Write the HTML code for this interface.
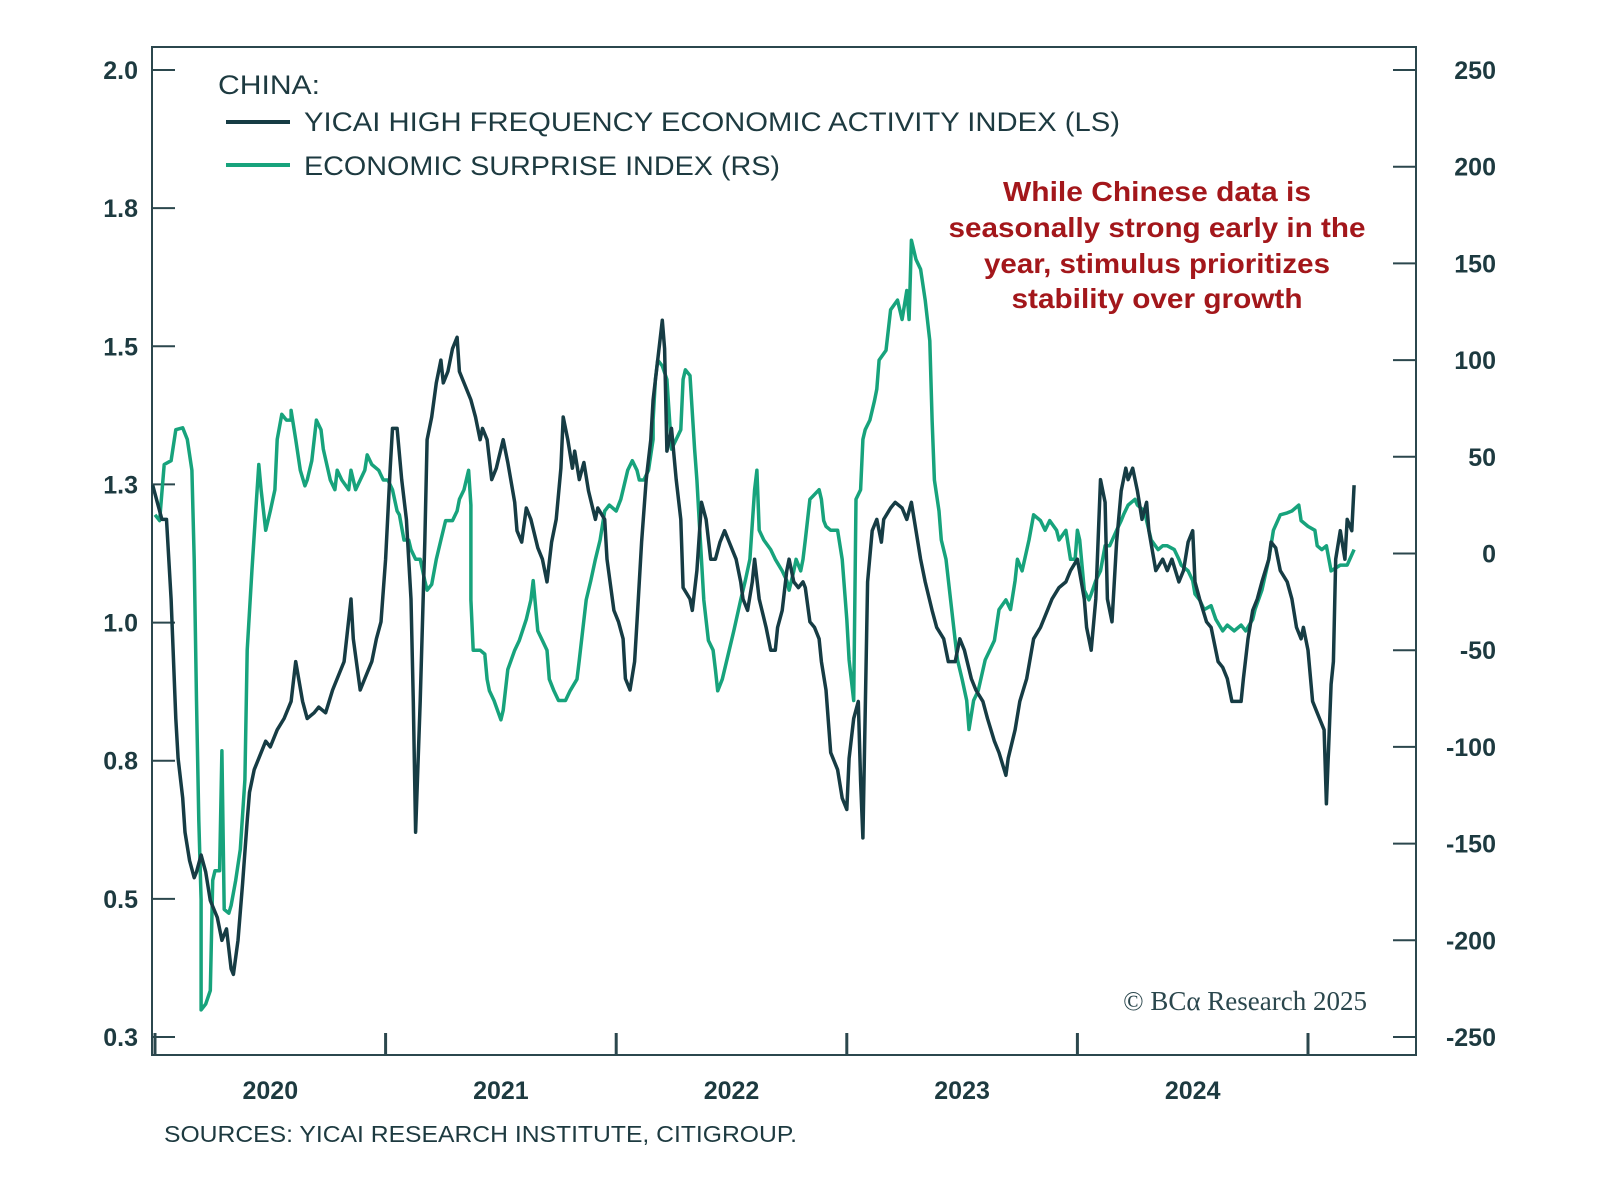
<!DOCTYPE html>
<html><head><meta charset="utf-8">
<style>
html,body{margin:0;padding:0;background:#fff;}
svg{display:block;font-family:"Liberation Sans",sans-serif;}
</style></head>
<body>
<svg id="chart" width="1600" height="1186" viewBox="0 0 1600 1186">
  <rect x="152" y="47" width="1264" height="1008" fill="#fff" stroke="#2b474d" stroke-width="2"/>
  <g id="axes"></g>
  <g id="series"></g>
  <g font-size="27" fill="#1d3a40">
    <text x="218" y="94" textLength="102" lengthAdjust="spacingAndGlyphs">CHINA:</text>
    <line x1="226" y1="122" x2="290" y2="122" stroke="#163c44" stroke-width="4"/>
    <text x="304" y="131" textLength="816" lengthAdjust="spacingAndGlyphs">YICAI HIGH FREQUENCY ECONOMIC ACTIVITY INDEX (LS)</text>
    <line x1="226" y1="165" x2="290" y2="165" stroke="#17a37c" stroke-width="4"/>
    <text x="304" y="175" textLength="476" lengthAdjust="spacingAndGlyphs">ECONOMIC SURPRISE INDEX (RS)</text>
  </g>
  <g font-size="28" font-weight="bold" fill="#a3171b" text-anchor="middle">
    <text x="1157" y="201" textLength="308" lengthAdjust="spacingAndGlyphs">While Chinese data is</text>
    <text x="1157" y="237" textLength="417" lengthAdjust="spacingAndGlyphs">seasonally strong early in the</text>
    <text x="1157" y="273" textLength="346" lengthAdjust="spacingAndGlyphs">year, stimulus prioritizes</text>
    <text x="1157" y="308" textLength="291" lengthAdjust="spacingAndGlyphs">stability over growth</text>
  </g>
  <text x="1367" y="1010" text-anchor="end" font-family="Liberation Serif, serif" font-size="27" fill="#2b474d">© BCα Research 2025</text>
  <text x="164" y="1142" font-size="23" fill="#1d3a40" textLength="633" lengthAdjust="spacingAndGlyphs">SOURCES: YICAI RESEARCH INSTITUTE, CITIGROUP.</text>
</svg>
<script>
const leftTickLabels = ['2.0','1.8','1.5','1.3','1.0','0.8','0.5','0.3'];
const rightTickLabels = ['250','200','150','100','50','0','-50','-100','-150','-200','-250'];
const rightTickValues = [250,200,150,100,50,0,-50,-100,-150,-200,-250];
const yearLabels = ['2020','2021','2022','2023','2024'];
const yicaiDates = [2019.99,2020.03,2020.05,2020.07,2020.09,2020.10,2020.12,2020.13,2020.15,2020.17,2020.18,2020.20,2020.22,2020.24,2020.27,2020.29,2020.31,2020.33,2020.34,2020.36,2020.38,2020.40,2020.41,2020.43,2020.45,2020.48,2020.50,2020.53,2020.56,2020.59,2020.61,2020.64,2020.66,2020.69,2020.71,2020.74,2020.77,2020.79,2020.82,2020.85,2020.86,2020.89,2020.91,2020.94,2020.96,2020.98,2021.00,2021.02,2021.03,2021.05,2021.07,2021.09,2021.11,2021.12,2021.13,2021.15,2021.17,2021.18,2021.20,2021.22,2021.24,2021.25,2021.27,2021.29,2021.31,2021.32,2021.34,2021.37,2021.39,2021.41,2021.42,2021.44,2021.46,2021.48,2021.51,2021.53,2021.56,2021.57,2021.59,2021.61,2021.63,2021.66,2021.68,2021.70,2021.72,2021.74,2021.76,2021.77,2021.79,2021.81,2021.82,2021.84,2021.86,2021.88,2021.91,2021.92,2021.95,2021.96,2021.99,2022.01,2022.03,2022.04,2022.06,2022.08,2022.09,2022.11,2022.13,2022.15,2022.16,2022.18,2022.20,2022.21,2022.22,2022.24,2022.26,2022.28,2022.29,2022.32,2022.33,2022.35,2022.37,2022.39,2022.41,2022.43,2022.45,2022.47,2022.49,2022.50,2022.52,2022.54,2022.55,2022.57,2022.59,2022.60,2022.62,2022.65,2022.67,2022.69,2022.70,2022.72,2022.74,2022.75,2022.77,2022.79,2022.81,2022.82,2022.84,2022.86,2022.88,2022.89,2022.91,2022.93,2022.94,2022.96,2022.98,2023.00,2023.01,2023.03,2023.05,2023.06,2023.07,2023.09,2023.11,2023.13,2023.15,2023.16,2023.19,2023.21,2023.24,2023.26,2023.28,2023.30,2023.32,2023.34,2023.37,2023.39,2023.42,2023.44,2023.47,2023.49,2023.51,2023.54,2023.56,2023.59,2023.61,2023.64,2023.66,2023.69,2023.70,2023.73,2023.75,2023.78,2023.81,2023.84,2023.87,2023.89,2023.92,2023.95,2023.97,2024.00,2024.03,2024.04,2024.06,2024.08,2024.10,2024.12,2024.13,2024.15,2024.17,2024.19,2024.21,2024.22,2024.24,2024.26,2024.28,2024.30,2024.31,2024.34,2024.37,2024.39,2024.41,2024.44,2024.46,2024.48,2024.50,2024.51,2024.53,2024.56,2024.58,2024.61,2024.63,2024.65,2024.67,2024.69,2024.71,2024.72,2024.74,2024.76,2024.78,2024.80,2024.83,2024.84,2024.86,2024.88,2024.91,2024.93,2024.95,2024.97,2024.98,2025.00,2025.02,2025.04,2025.05,2025.07,2025.08,2025.10,2025.11,2025.12,2025.14,2025.16,2025.17,2025.19,2025.20];
const yicaiValues = [1.27,1.21,1.21,1.07,0.86,0.79,0.72,0.66,0.61,0.58,0.59,0.62,0.59,0.54,0.51,0.47,0.49,0.42,0.41,0.47,0.57,0.68,0.73,0.77,0.79,0.82,0.81,0.84,0.86,0.89,0.96,0.89,0.86,0.87,0.88,0.87,0.91,0.93,0.96,1.07,1.00,0.91,0.93,0.96,1.00,1.03,1.14,1.30,1.37,1.37,1.28,1.21,1.07,0.89,0.66,0.89,1.17,1.35,1.39,1.45,1.49,1.45,1.47,1.51,1.53,1.47,1.45,1.42,1.39,1.35,1.37,1.35,1.28,1.30,1.35,1.31,1.24,1.19,1.17,1.23,1.21,1.16,1.14,1.10,1.17,1.21,1.30,1.39,1.35,1.30,1.33,1.28,1.31,1.26,1.21,1.23,1.21,1.14,1.05,1.03,1.00,0.93,0.91,0.96,1.03,1.17,1.28,1.35,1.42,1.49,1.56,1.51,1.33,1.37,1.28,1.21,1.09,1.07,1.05,1.12,1.24,1.21,1.14,1.14,1.17,1.19,1.17,1.16,1.14,1.10,1.07,1.05,1.10,1.14,1.07,1.02,0.98,0.98,1.02,1.05,1.12,1.14,1.10,1.09,1.10,1.09,1.03,1.02,1.00,0.96,0.91,0.80,0.79,0.77,0.72,0.70,0.79,0.86,0.89,0.75,0.65,1.10,1.19,1.21,1.17,1.21,1.23,1.24,1.23,1.21,1.24,1.19,1.14,1.10,1.05,1.02,1.00,0.96,0.96,1.00,0.98,0.93,0.91,0.89,0.86,0.82,0.80,0.76,0.79,0.84,0.89,0.93,1.00,1.02,1.05,1.07,1.09,1.10,1.12,1.14,1.07,1.02,0.98,1.07,1.28,1.24,1.07,1.03,1.17,1.26,1.30,1.28,1.30,1.26,1.21,1.24,1.19,1.12,1.14,1.12,1.14,1.10,1.12,1.17,1.19,1.10,1.07,1.03,1.02,0.96,0.95,0.93,0.89,0.89,0.89,0.93,1.00,1.05,1.07,1.10,1.14,1.17,1.16,1.12,1.10,1.07,1.02,1.00,1.02,0.98,0.89,0.87,0.86,0.84,0.71,0.92,0.96,1.14,1.19,1.14,1.21,1.19,1.27];
const surpriseDates = [2020.00,2020.02,2020.04,2020.07,2020.09,2020.12,2020.14,2020.16,2020.17,2020.18,2020.19,2020.20,2020.20,2020.22,2020.24,2020.25,2020.26,2020.28,2020.29,2020.30,2020.32,2020.33,2020.35,2020.37,2020.39,2020.40,2020.42,2020.44,2020.45,2020.46,2020.48,2020.50,2020.52,2020.53,2020.55,2020.57,2020.59,2020.59,2020.61,2020.63,2020.65,2020.66,2020.68,2020.70,2020.72,2020.73,2020.76,2020.78,2020.79,2020.81,2020.84,2020.85,2020.87,2020.89,2020.91,2020.92,2020.94,2020.97,2020.99,2021.01,2021.03,2021.05,2021.06,2021.08,2021.10,2021.11,2021.13,2021.15,2021.17,2021.18,2021.20,2021.22,2021.24,2021.26,2021.29,2021.31,2021.32,2021.34,2021.36,2021.37,2021.37,2021.38,2021.41,2021.43,2021.44,2021.45,2021.47,2021.50,2021.51,2021.53,2021.56,2021.58,2021.61,2021.63,2021.64,2021.66,2021.68,2021.70,2021.71,2021.73,2021.75,2021.77,2021.78,2021.80,2021.83,2021.84,2021.87,2021.89,2021.91,2021.93,2021.95,2021.97,2022.00,2022.02,2022.03,2022.05,2022.07,2022.09,2022.10,2022.12,2022.14,2022.16,2022.16,2022.17,2022.18,2022.20,2022.22,2022.24,2022.26,2022.28,2022.29,2022.30,2022.32,2022.34,2022.35,2022.36,2022.38,2022.40,2022.42,2022.43,2022.44,2022.46,2022.49,2022.51,2022.54,2022.56,2022.58,2022.60,2022.61,2022.62,2022.64,2022.67,2022.69,2022.72,2022.74,2022.75,2022.77,2022.78,2022.80,2022.81,2022.82,2022.84,2022.88,2022.89,2022.90,2022.91,2022.93,2022.96,2022.98,2023.00,2023.01,2023.03,2023.04,2023.06,2023.07,2023.08,2023.10,2023.12,2023.13,2023.14,2023.17,2023.19,2023.22,2023.24,2023.26,2023.27,2023.28,2023.30,2023.32,2023.34,2023.36,2023.37,2023.38,2023.40,2023.41,2023.43,2023.45,2023.47,2023.48,2023.50,2023.52,2023.53,2023.55,2023.57,2023.60,2023.62,2023.64,2023.66,2023.69,2023.71,2023.73,2023.74,2023.76,2023.79,2023.81,2023.84,2023.86,2023.88,2023.91,2023.92,2023.95,2023.97,2023.99,2024.00,2024.01,2024.03,2024.05,2024.06,2024.08,2024.10,2024.12,2024.14,2024.17,2024.19,2024.20,2024.22,2024.25,2024.26,2024.29,2024.31,2024.32,2024.35,2024.37,2024.39,2024.42,2024.44,2024.45,2024.48,2024.50,2024.51,2024.53,2024.55,2024.58,2024.60,2024.63,2024.65,2024.68,2024.71,2024.73,2024.76,2024.77,2024.80,2024.83,2024.85,2024.88,2024.91,2024.93,2024.96,2024.97,2025.00,2025.03,2025.04,2025.06,2025.08,2025.10,2025.14,2025.17,2025.20];
const surpriseValues = [20,17,46,48,64,65,59,43,-3,-76,-138,-179,-236,-233,-226,-169,-164,-164,-102,-184,-186,-182,-169,-153,-117,-50,-9,28,46,33,12,22,33,59,72,69,69,74,59,43,35,38,48,69,64,54,38,33,43,38,33,43,33,38,43,51,46,43,38,38,33,22,20,7,7,2,-3,-3,-14,-19,-16,-3,7,17,17,22,28,33,43,25,-24,-50,-50,-52,-65,-71,-76,-86,-81,-60,-50,-45,-34,-24,-14,-40,-45,-50,-65,-71,-76,-76,-76,-71,-65,-55,-24,-14,-3,7,22,25,22,28,33,43,48,43,38,38,43,59,69,90,100,97,90,54,59,64,90,95,92,54,38,17,-24,-45,-50,-60,-71,-65,-50,-40,-24,-14,-3,33,43,12,7,2,-3,-9,-14,-19,-9,-3,-9,-3,7,28,33,28,17,14,12,12,-3,-34,-55,-76,28,33,59,64,69,79,85,100,105,126,131,121,136,121,162,152,147,131,110,69,38,22,7,-3,-24,-45,-55,-65,-76,-91,-76,-71,-55,-50,-45,-29,-24,-29,-14,-3,-9,7,20,17,12,17,12,7,12,-3,-3,12,7,-19,-24,-21,-14,-9,4,4,12,17,20,25,28,25,22,12,7,2,4,4,2,-3,-6,-9,-14,-21,-24,-29,-27,-34,-40,-37,-40,-37,-40,-34,-29,-19,-3,12,20,21,22,25,17,14,12,4,2,4,-9,-6,-6,2];

const NS = 'http://www.w3.org/2000/svg';
const X0 = 155, YEAR_W = 230.6;
const xScale = t => X0 + (t - 2020) * YEAR_W;
const yLeft = v => 70 + (2.0 - v) * 967 / 1.7;
const yRight = r => 70 + (250 - r) * 967 / 500;
const axes = document.getElementById('axes');
const series = document.getElementById('series');
function mk(tag, attrs, parent){
  const e = document.createElementNS(NS, tag);
  for (const k in attrs) e.setAttribute(k, attrs[k]);
  parent.appendChild(e); return e;
}
leftTickLabels.forEach((lab, i) => {
  const y = yLeft(2.0 - i * 1.7 / 7);
  const tk = mk('line', {x1:152, x2:175, y1:y, y2:y, stroke:'#2b474d', 'stroke-width':2}, axes);
  
  
  const t = mk('text', {x:138, y:y+9, 'text-anchor':'end', 'font-size':25, 'font-weight':'bold', fill:'#1d3a40'}, axes);
  t.textContent = lab;
  
  
});
rightTickValues.forEach((v, i) => {
  const y = yRight(v);
  const tk = mk('line', {x1:1393, x2:1416, y1:y, y2:y, stroke:'#2b474d', 'stroke-width':2}, axes);
  
  
  const t = mk('text', {x:1496, y:y+9, 'text-anchor':'end', 'font-size':25, 'font-weight':'bold', fill:'#1d3a40'}, axes);
  t.textContent = rightTickLabels[i];
  
  
});
for (let k = 0; k <= yearLabels.length; k++) {
  const x = xScale(2020 + k);
  const tk = mk('line', {x1:x, x2:x, y1:1033, y2:1055, stroke:'#2b474d', 'stroke-width':3}, axes);
  
  
}
yearLabels.forEach((lab, k) => {
  const t = mk('text', {x:xScale(2020.5 + k), y:1099, 'text-anchor':'middle', 'font-size':25, 'font-weight':'bold', fill:'#1d3a40'}, axes);
  t.textContent = lab;
  
  
});
function line(dates, vals, yf, color){
  const d = dates.map((t, i) => (i ? 'L' : 'M') + xScale(t).toFixed(1) + ',' + yf(vals[i]).toFixed(1)).join('');
  return mk('path', {d, fill:'none', stroke:color, 'stroke-width':3.5, 'stroke-linejoin':'round'}, series);
}
const g = line(surpriseDates, surpriseValues, yRight, '#17a37c');


const d = line(yicaiDates, yicaiValues, yLeft, '#163c44');


</script>
</body></html>
